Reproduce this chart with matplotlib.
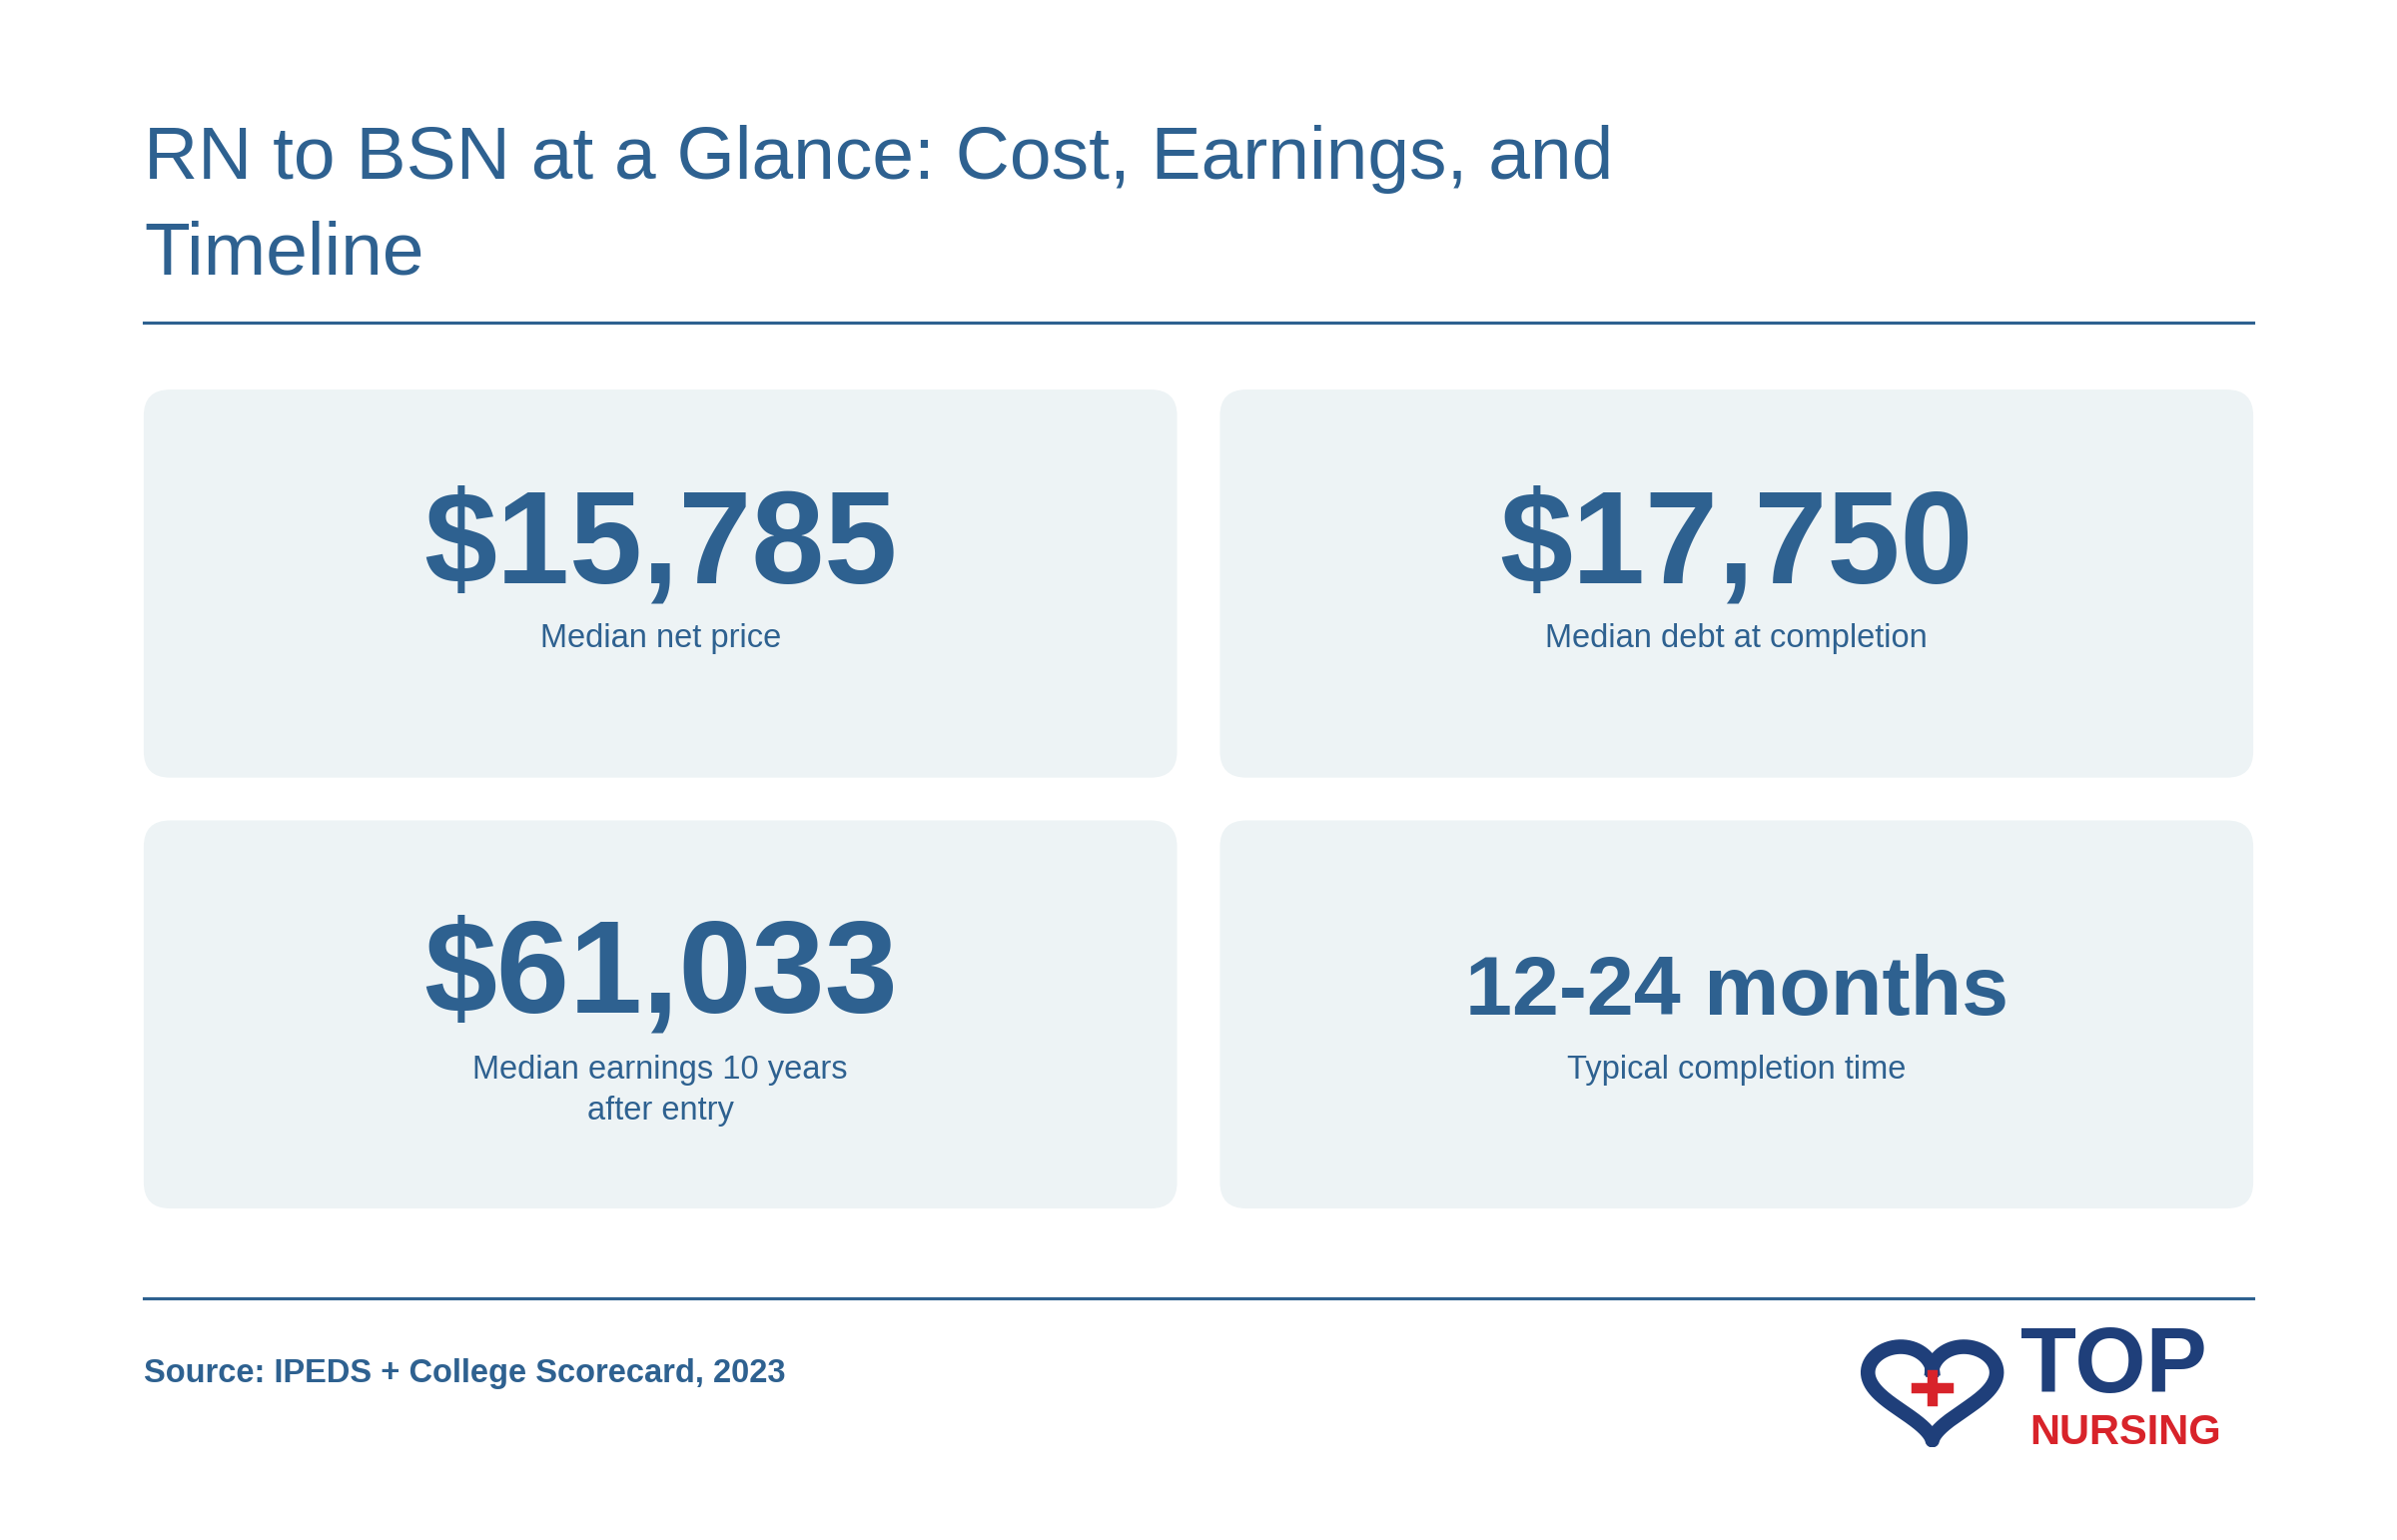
import matplotlib
matplotlib.use("Agg")
import matplotlib.pyplot as plt
from matplotlib.patches import FancyBboxPatch
import numpy as np

plt.rcParams['font.family'] = ['Liberation Sans', 'DejaVu Sans']

title = "RN to BSN at a Glance: Cost, Earnings, and\nTimeline"
values = ["$15,785", "$17,750", "$61,033", "12-24 months"]
labels = ["Median net price", "Median debt at completion",
          "Median earnings 10 years\nafter entry", "Typical completion time"]
source = "Source: IPEDS + College Scorecard, 2023"

BLUE = "#2E6190"
CARD = "#EDF3F5"
W, H = 1568, 1008

fig = plt.figure(figsize=(16, 10.28), dpi=150)
fig.patch.set_facecolor("white")

def fx(x): return x / W
def fy(y): return 1 - y / H

fig.text(fx(94), fy(82), title, ha="left", va="top", fontsize=36, color=BLUE, linespacing=1.48)
fig.add_artist(plt.Line2D([fx(94), fx(1474)], [fy(211)] * 2, color=BLUE, lw=1.5))
fig.add_artist(plt.Line2D([fx(94), fx(1474)], [fy(850)] * 2, color=BLUE, lw=1.5))

cards = [(94, 255), (798, 255), (94, 537), (798, 537)]
cw, ch = 676, 254
for i, (x, y) in enumerate(cards):
    p = FancyBboxPatch((fx(x), fy(y + ch)), fx(cw), ch / H,
                       boxstyle="round,pad=0,rounding_size=0.011",
                       transform=fig.transFigure, fc=CARD, ec="none",
                       mutation_aspect=W / H)
    fig.add_artist(p)
    cx = fx(x + cw / 2)
    big = i < 3
    fig.text(cx, fy(359 if i < 2 else 640 if big else 650), values[i], ha="center", va="center",
             fontsize=63 if big else 40.5, fontweight="bold", color=BLUE)
    fig.text(cx, fy(408 if i < 2 else 690), labels[i], ha="center", va="top",
             fontsize=15.7, color=BLUE, linespacing=1.45)

fig.text(fx(94), fy(899), source, ha="left", va="center", fontsize=15.7, fontweight="bold", color=BLUE)

# logo
ax = fig.add_axes([fx(1214), fy(947), fx(100), 72 / H])
t = np.linspace(0, 2 * np.pi, 300)
hx = 16 * np.sin(t) ** 3
hy = 13 * np.cos(t) - 5 * np.cos(2 * t) - 2 * np.cos(3 * t) - np.cos(4 * t)
ax.plot(hx, hy, color="#1F3F7A", lw=7)
ax.plot([-4, 4], [-1, -1], color="#D8232A", lw=5)
ax.plot([0, 0], [-5, 3], color="#D8232A", lw=5)
ax.set_xlim(-19, 19); ax.set_ylim(-19, 15); ax.axis("off")
fig.text(fx(1322), fy(911), "TOP", ha="left", va="baseline", fontsize=44, fontweight="bold", color="#1F3F7A")
fig.text(fx(1328), fy(945), "NURSING", ha="left", va="baseline", fontsize=20, fontweight="bold", color="#D8232A")

fig.savefig("out.png", dpi=150)
